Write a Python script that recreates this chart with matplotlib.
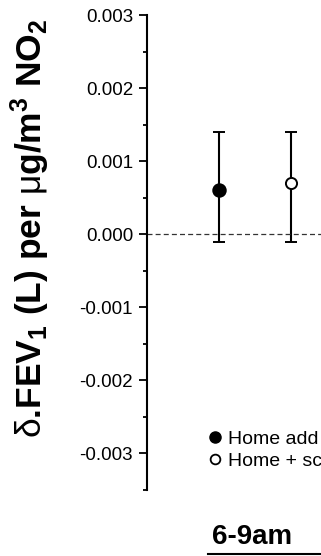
import matplotlib.pyplot as plt
from matplotlib.lines import Line2D

plt.rcParams['font.family'] = ['Liberation Sans', 'DejaVu Sans']
plt.rcParams['mathtext.fontset'] = 'custom'
plt.rcParams['mathtext.rm'] = 'Liberation Sans'
plt.rcParams['mathtext.it'] = 'Liberation Sans'
plt.rcParams['mathtext.bf'] = 'Liberation Sans:bold'

# data
groups = ['Home add', 'Home + sc']
estimate = [0.0006, 0.0007]
ci_low = [-0.0001, -0.0001]
ci_high = [0.0014, 0.0014]
period = '6-9am'
yticks = [-0.003, -0.002, -0.001, 0.000, 0.001, 0.002, 0.003]

fig = plt.figure(figsize=(3.21, 5.56), dpi=100)
# axes runs past the right edge, the original panel is cropped
ax = fig.add_axes([147 / 321, 1 - 490 / 556, 216 / 321, 475 / 556])

xpos = [1, 2]
faces = ['black', 'white']
for x, est, lo, hi, fc, lab in zip(xpos, estimate, ci_low, ci_high, faces, groups):
    ax.errorbar(x, est, yerr=[[est - lo], [hi - est]], fmt='o', color='black',
                mfc=fc, mec='black', ms=9 if fc == 'black' else 8, mew=1.4,
                elinewidth=1.5, capsize=4.5, capthick=1.5, label=lab)

ax.axhline(0, color='#333333', lw=0.9, ls=(0, (4, 2.5)))

ax.set_xlim(0, 3)
ax.set_ylim(-0.0035, 0.003)
ax.set_yticks(yticks)
ax.set_yticklabels(['%.3f' % v for v in yticks], fontsize=13.5)
ax.set_yticks([-0.0035, -0.0025, -0.0015, -0.0005, 0.0005, 0.0015, 0.0025], minor=True)
ax.tick_params(axis='y', which='major', direction='out', length=6, width=1.3, pad=4)
ax.tick_params(axis='y', which='minor', direction='out', length=3, width=1.3)
ax.set_xticks([])
for s in ['top', 'right', 'bottom']:
    ax.spines[s].set_visible(False)
ax.spines['left'].set_linewidth(1.5)

fig.text(30 / 321, 1 - 228 / 556,
         r'$\delta$.FEV$_\mathregular{1}$ (L) per $\mu$g/m$^\mathregular{3}$ NO$_\mathregular{2}$',
         rotation=90, ha='center', va='center', fontsize=25.5, fontweight='bold')

handles = [Line2D([], [], marker='o', ls='none', mfc='black', mec='black', ms=8),
           Line2D([], [], marker='o', ls='none', mfc='white', mec='black', ms=7, mew=1.3)]
ax.legend(handles, groups, loc='center left', bbox_to_anchor=(197 / 321, 1 - 450 / 556),
          bbox_transform=fig.transFigure, frameon=False, fontsize=14,
          handletextpad=0.2, handlelength=0.9, labelspacing=0.2, borderpad=0)

fig.text(252 / 321, 1 - 537 / 556, period, ha='center', va='center',
         fontsize=20, fontweight='bold')
fig.add_artist(Line2D([208 / 321, 1.0], [1 - 554 / 556, 1 - 554 / 556],
                      transform=fig.transFigure, color='black', lw=1.5))

fig.savefig('out.png', dpi=100)
